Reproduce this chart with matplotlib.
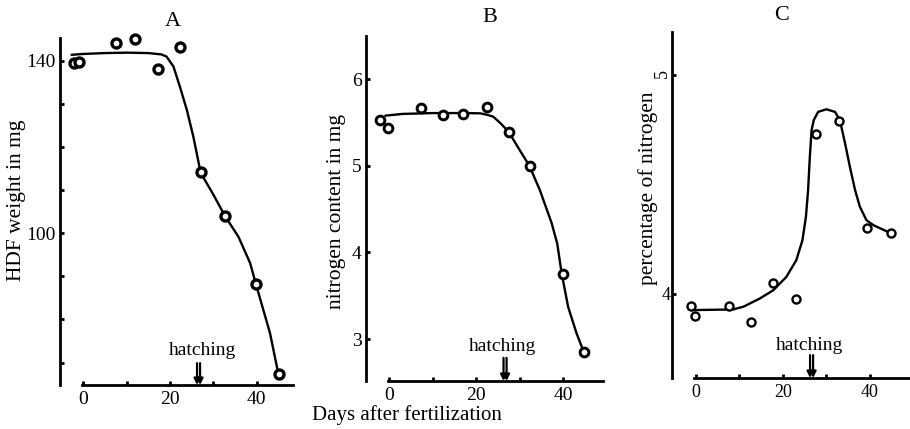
import matplotlib
matplotlib.use("Agg")
import matplotlib.pyplot as plt
from matplotlib.ticker import FixedLocator

plt.rcParams['font.family'] = ['Liberation Serif', 'DejaVu Serif']

# ---------------- data ----------------
# Panel A: HDF weight (mg)
a_days = [-2.2, -0.9, 7.5, 11.9, 17.2, 22.3, 27.2, 32.8, 39.9, 45.2]
a_vals = [139.5, 139.8, 144.2, 145.1, 138.1, 143.1, 114.1, 104.0, 88.2, 67.3]
a_curve_days = [-2.7, 0, 5, 10, 15, 18.0, 19.2, 20.8, 22.3, 23.9, 25.4, 27.1, 30, 32.7, 35.8, 38.5, 39.9, 43.1, 45.0]
a_curve_vals = [141.4, 141.6, 141.8, 141.9, 141.8, 141.5, 141.0, 138.7, 134.0, 128.6, 122.4, 114.0, 109.0, 104.0, 99.2, 93.1, 88.0, 76.8, 67.5]

# Panel B: nitrogen content (mg)
b_days = [-2.1, -0.4, 7.3, 12.3, 17.0, 22.5, 27.4, 32.3, 39.8, 44.8]
b_vals = [5.53, 5.44, 5.67, 5.59, 5.60, 5.68, 5.39, 5.00, 3.75, 2.85]
b_curve_days = [-0.9, 3, 10, 17, 20.9, 22.5, 23.9, 25.6, 27.4, 30.0, 32.2, 34.6, 37.3, 38.6, 39.6, 41.1, 43.0, 44.7]
b_curve_vals = [5.58, 5.60, 5.61, 5.61, 5.607, 5.59, 5.568, 5.49, 5.395, 5.18, 5.00, 4.72, 4.34, 4.10, 3.76, 3.37, 3.07, 2.85]

# Panel C: percentage of nitrogen
c_days = [-1.0, -0.2, 7.7, 12.8, 17.8, 23.0, 27.6, 32.9, 39.4, 44.9]
c_vals = [3.942, 3.896, 3.942, 3.870, 4.049, 3.977, 4.733, 4.791, 4.298, 4.279]
c_curve_days = [-1.0, 8.6, 11.0, 14.7, 17.8, 20.8, 23.1, 24.5, 25.3, 25.8, 26.2, 26.6, 27.1, 28.1, 30.0,
                32.0, 33.1, 34.3, 35.4, 36.6, 37.7, 39.2, 40.8, 44.6]
c_curve_vals = [3.924, 3.927, 3.94, 3.977, 4.015, 4.076, 4.153, 4.244, 4.351, 4.473, 4.626, 4.748, 4.794, 4.832, 4.844,
                4.832, 4.794, 4.687, 4.580, 4.473, 4.397, 4.336, 4.313, 4.278]

hatching_day = 26.6
panel_titles = ["A", "B", "C"]
y_labels = ["HDF weight in mg", "nitrogen content in mg", "percentage of nitrogen"]
x_label = "Days after fertilization"
x_major = [0, 20, 40]
x_minor = [10, 30]

# ---------------- figure ----------------
W, H = 910, 429
fig = plt.figure(figsize=(W / 100, H / 100), dpi=100)


def px_axes(left, right, top, bottom):
    return fig.add_axes([left / W, 1 - bottom / H, (right - left) / W, (bottom - top) / H])


axA = px_axes(60, 293, 38, 385)
axB = px_axes(366, 603, 36, 381)
axC = px_axes(672, 910, 32, 378)

specs = [
    dict(ax=axA, days=a_days, vals=a_vals, cd=a_curve_days, cv=a_curve_vals,
         xlim=(-5.38, 48.4), ylim=(64.8, 145.3), ymaj=[100, 140], ymin=[70, 80, 90, 110, 120, 130],
         mew=2.4, ms=6.5, hx=27.6, hy=0.098, atop=0.063, tls=14, ypad=3,
         title_xy=(173, 22), ylab_xy=(-0.146, 0.533)),
    dict(ax=axB, days=b_days, vals=b_vals, cd=b_curve_days, cv=b_curve_vals,
         xlim=(-5.34, 49.1), ylim=(2.516, 6.5), ymaj=[3, 4, 5, 6], ymin=[],
         mew=2.1, ms=6.3, hx=26.0, hy=0.099, atop=0.067, tls=14, ypad=3,
         title_xy=(490, 18), ylab_xy=(-0.084, 0.49)),
    dict(ax=axC, days=c_days, vals=c_vals, cd=c_curve_days, cv=c_curve_vals,
         xlim=(-5.45, 49.2), ylim=(3.613, 5.198), ymaj=[4, 5], ymin=[],
         mew=1.7, ms=5.8, hx=26.0, hy=0.095, atop=0.066, tls=13, ypad=1,
         title_xy=(782, 16), ylab_xy=(-0.059, 0.549)),
]

for i, s in enumerate(specs):
    ax = s['ax']
    ax.plot(s['cd'], s['cv'], color='black', lw=1.7, solid_capstyle='round',
            solid_joinstyle='round', zorder=2)
    ax.plot(s['days'], s['vals'], linestyle='none', marker='o', ms=s['ms'],
            mfc='white', mec='black', mew=s['mew'], zorder=3, clip_on=False)
    ax.set_xlim(*s['xlim'])
    ax.set_ylim(*s['ylim'])
    for side in ('top', 'right'):
        ax.spines[side].set_visible(False)
    ax.spines['left'].set_linewidth(2.0)
    ax.spines['bottom'].set_linewidth(2.0)
    ax.spines['bottom'].set_bounds(-0.3, s['xlim'][1])
    ax.patch.set_alpha(0)
    ax.xaxis.set_major_locator(FixedLocator(x_major))
    ax.xaxis.set_minor_locator(FixedLocator(x_minor))
    ax.yaxis.set_major_locator(FixedLocator(s['ymaj']))
    ax.yaxis.set_minor_locator(FixedLocator(s['ymin']))
    ax.tick_params(which='both', direction='in', length=3, width=2, labelsize=s['tls'], pad=4)
    ax.tick_params(axis='y', which='both', pad=s['ypad'])
    fig.text(s['title_xy'][0] / W, 1 - s['title_xy'][1] / H, panel_titles[i],
             ha='center', va='center', fontsize=16)
    ax.set_ylabel(y_labels[i], fontsize=15.5)
    ax.yaxis.set_label_coords(*s['ylab_xy'])
    # hatching marker
    ax.text(s['hx'], s['hy'], "hatching", transform=ax.get_xaxis_transform(),
            ha='center', va='center', fontsize=14)
    for dx in (-0.35, 0.35):
        ax.annotate('', xy=(hatching_day + dx, 0.0), xytext=(hatching_day + dx, s['atop']),
                    xycoords=('data', 'axes fraction'), textcoords=('data', 'axes fraction'),
                    arrowprops=dict(arrowstyle='-|>', color='black', lw=1.6,
                                    mutation_scale=9, shrinkA=0, shrinkB=0))

# rotated "5" label in panel C as in the original
fig.canvas.draw()
for t in axC.yaxis.get_major_ticks():
    if t.label1.get_text() == '5':
        t.label1.set_rotation(90)

fig.text(407 / W, 1 - 415 / H, x_label, ha='center', va='center', fontsize=15)

fig.savefig("out.png", dpi=100)
